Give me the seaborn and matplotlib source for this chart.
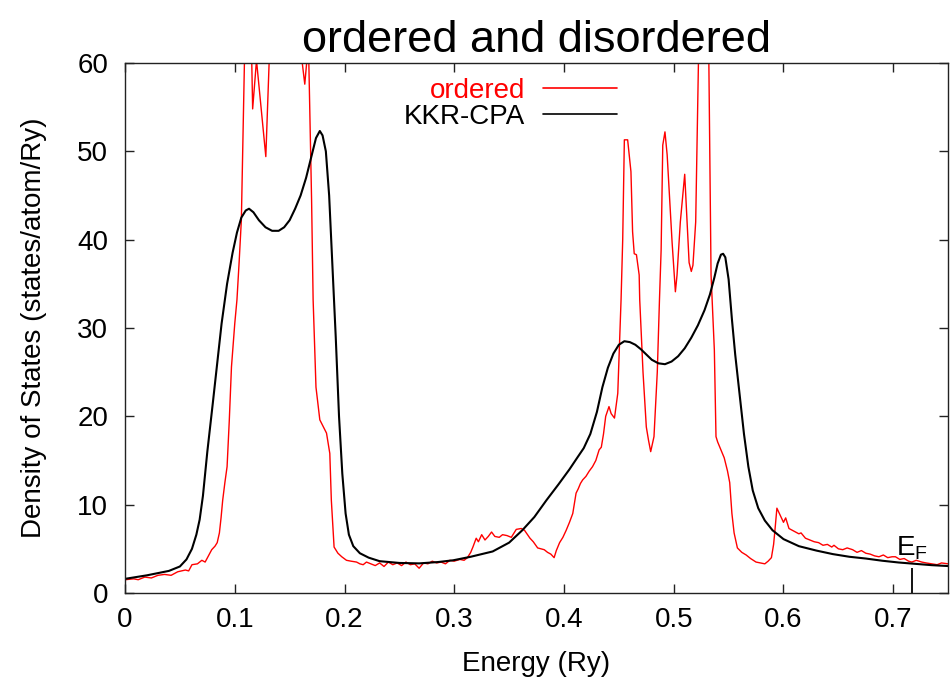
import numpy as np
import pandas as pd
import seaborn as sns
import matplotlib
matplotlib.use("Agg")
import matplotlib.pyplot as plt

# ordered (red) DOS; values above 60 are clipped by the axes
ordered_e = [0.000, 0.008, 0.012, 0.018, 0.024, 0.030, 0.036, 0.042, 0.048, 0.055,
             0.058, 0.061, 0.066, 0.070, 0.073, 0.076, 0.079, 0.082, 0.084, 0.086,
             0.0875, 0.089, 0.091, 0.093, 0.095, 0.097, 0.100, 0.102, 0.104, 0.106,
             0.1088, 0.110, 0.114, 0.1155, 0.1163, 0.1198, 0.1283, 0.1313, 0.133, 0.160,
             0.1615, 0.1638, 0.1655, 0.1665, 0.1675, 0.170, 0.1714, 0.174, 0.1775, 0.1836,
             0.1866, 0.188, 0.1905, 0.194, 0.1975, 0.2018, 0.206, 0.211, 0.214, 0.217,
             0.220, 0.224, 0.228, 0.232, 0.236, 0.240, 0.244, 0.248, 0.252, 0.256,
             0.260, 0.264, 0.268, 0.272, 0.276, 0.280, 0.284, 0.288, 0.292, 0.296,
             0.300, 0.305, 0.309, 0.312, 0.315, 0.317, 0.320, 0.322, 0.325, 0.328,
             0.331, 0.334, 0.337, 0.341, 0.344, 0.348, 0.352, 0.3565, 0.361, 0.364,
             0.369, 0.372, 0.376, 0.379, 0.382, 0.385, 0.388, 0.391, 0.393, 0.396,
             0.399, 0.402, 0.405, 0.408, 0.411, 0.413, 0.415, 0.417, 0.420, 0.423,
             0.426, 0.429, 0.432, 0.434, 0.436, 0.438, 0.441, 0.443, 0.446, 0.449,
             0.452, 0.4535, 0.455, 0.458, 0.461, 0.4625, 0.464, 0.466, 0.4685, 0.469,
             0.472, 0.475, 0.477, 0.479, 0.482, 0.485, 0.487, 0.4885, 0.490, 0.492,
             0.494, 0.4985, 0.5015, 0.503, 0.506, 0.510, 0.514, 0.516, 0.5175, 0.520,
             0.5225, 0.524, 0.530, 0.532, 0.534, 0.537, 0.5385, 0.540, 0.543, 0.546,
             0.549, 0.551, 0.553, 0.555, 0.558, 0.562, 0.566, 0.570, 0.575, 0.579,
             0.583, 0.586, 0.589, 0.591, 0.592, 0.594, 0.597, 0.600, 0.602, 0.605,
             0.608, 0.611, 0.614, 0.616, 0.620, 0.624, 0.628, 0.632, 0.636, 0.640,
             0.644, 0.646, 0.650, 0.654, 0.658, 0.663, 0.667, 0.671, 0.675, 0.679,
             0.683, 0.687, 0.691, 0.695, 0.699, 0.702, 0.706, 0.710, 0.714, 0.717,
             0.721, 0.726, 0.730, 0.735, 0.740, 0.744, 0.750]
ordered_dos = [1.5, 1.6, 1.5, 1.8, 1.7, 2.0, 2.1, 2.0, 2.4, 2.6,
               2.5, 3.2, 3.3, 3.7, 3.5, 4.2, 4.9, 5.3, 5.7, 6.8,
               8.5, 10.5, 12.5, 14.3, 19.5, 25.6, 30.5, 33.2, 37.5, 42.2,
               60.0, 72.0, 72.0, 60.0, 54.8, 60.3, 49.4, 60.0, 75.0, 75.0,
               60.0, 57.6, 60.0, 68.0, 60.0, 44.5, 33.2, 23.3, 19.6, 18.1,
               15.8, 10.5, 5.2, 4.5, 4.1, 3.7, 3.6, 3.5, 3.3, 3.2,
               3.5, 3.3, 3.1, 3.4, 3.0, 3.5, 3.2, 3.4, 3.1, 3.5,
               3.2, 3.3, 2.8, 3.4, 3.3, 3.6, 3.4, 3.5, 3.3, 3.7,
               3.6, 3.8, 3.7, 4.0, 4.6, 5.2, 6.2, 5.8, 6.6, 6.0,
               6.4, 6.9, 6.4, 6.3, 6.6, 6.5, 6.3, 7.2, 7.3, 7.1,
               6.2, 5.8, 5.1, 5.0, 4.9, 4.6, 4.4, 4.0, 4.8, 5.7,
               6.3, 7.1, 8.0, 9.0, 11.3, 11.8, 12.4, 12.8, 13.2, 13.8,
               14.3, 15.0, 16.2, 16.5, 18.0, 20.0, 21.1, 20.3, 19.8, 22.6,
               33.2, 40.0, 51.3, 51.3, 47.7, 40.9, 38.4, 38.3, 36.0, 33.2,
               25.0, 18.8, 17.3, 16.0, 17.7, 25.0, 33.2, 38.8, 50.7, 52.2,
               49.6, 39.7, 34.1, 36.0, 42.0, 47.4, 37.4, 36.4, 37.1, 42.0,
               60.0, 80.0, 80.0, 60.0, 36.0, 27.5, 17.7, 17.1, 16.2, 15.3,
               13.8, 12.5, 9.0, 6.8, 5.1, 4.6, 4.3, 3.9, 3.5, 3.4,
               3.3, 3.6, 4.0, 5.5, 6.8, 9.6, 8.8, 8.0, 8.5, 7.3,
               7.1, 6.9, 6.7, 6.8, 6.2, 6.0, 5.8, 5.7, 5.4, 5.5,
               5.2, 5.4, 5.0, 4.9, 5.1, 4.9, 4.6, 4.8, 4.5, 4.4,
               4.2, 4.1, 4.3, 4.0, 4.1, 4.1, 3.8, 3.9, 3.6, 3.5,
               3.7, 3.5, 3.4, 3.3, 3.2, 3.4, 3.3]

# KKR-CPA (black) DOS
cpa_e = [0.000, 0.020, 0.040, 0.050, 0.056, 0.061, 0.065, 0.068, 0.071, 0.075,
         0.080, 0.084, 0.088, 0.093, 0.098, 0.102, 0.106, 0.110, 0.113, 0.117,
         0.122, 0.128, 0.134, 0.140, 0.145, 0.150, 0.155, 0.160, 0.165, 0.170,
         0.174, 0.1775, 0.180, 0.183, 0.186, 0.189, 0.192, 0.195, 0.198, 0.201,
         0.204, 0.208, 0.214, 0.222, 0.232, 0.250, 0.268, 0.285, 0.299, 0.315,
         0.335, 0.350, 0.362, 0.373, 0.384, 0.395, 0.405, 0.412, 0.418, 0.424,
         0.430, 0.435, 0.440, 0.445, 0.450, 0.455, 0.460, 0.465, 0.470, 0.475,
         0.480, 0.486, 0.492, 0.498, 0.504, 0.510, 0.516, 0.522, 0.528, 0.533,
         0.537, 0.540, 0.543, 0.545, 0.547, 0.550, 0.553, 0.556, 0.560, 0.564,
         0.568, 0.572, 0.577, 0.583, 0.590, 0.600, 0.614, 0.630, 0.645, 0.660,
         0.675, 0.690, 0.705, 0.720, 0.735, 0.750]
cpa_dos = [1.6, 2.0, 2.5, 3.0, 3.8, 5.0, 6.6, 8.3, 11.0, 16.0,
           21.5, 26.0, 30.5, 35.0, 38.5, 40.8, 42.5, 43.3, 43.5, 43.1,
           42.2, 41.4, 41.0, 41.0, 41.4, 42.2, 43.5, 45.0, 47.0, 49.5,
           51.5, 52.3, 51.8, 50.0, 45.0, 37.0, 29.0, 20.0, 13.5, 9.0,
           6.6, 5.3, 4.5, 4.0, 3.6, 3.4, 3.35, 3.5, 3.7, 4.1,
           4.7, 5.7, 7.1, 8.6, 10.5, 12.3, 14.0, 15.3, 16.4, 18.0,
           20.5, 23.3, 25.5, 27.1, 28.1, 28.5, 28.4, 28.1, 27.6, 27.0,
           26.4, 26.0, 25.9, 26.2, 26.8, 27.7, 28.9, 30.3, 32.0, 33.8,
           35.7, 37.3, 38.3, 38.4, 38.0, 35.5, 31.0, 27.0, 22.5, 18.0,
           14.3, 11.6, 9.6, 8.2, 7.1, 6.1, 5.3, 4.8, 4.4, 4.1,
           3.9, 3.65, 3.45, 3.3, 3.15, 3.05]

fermi_energy = 0.717
fermi_mark_height = 2.8

xticks = [0, 0.1, 0.2, 0.3, 0.4, 0.5, 0.6, 0.7]
xticklabels = ["0", "0.1", "0.2", "0.3", "0.4", "0.5", "0.6", "0.7"]
yticks = [0, 10, 20, 30, 40, 50, 60]

sns.set_style("ticks")
plt.rcParams['font.family'] = ['Liberation Sans', 'DejaVu Sans']
plt.rcParams['mathtext.fontset'] = 'custom'
plt.rcParams['mathtext.rm'] = 'Liberation Sans'
plt.rcParams['text.color'] = 'black'
plt.rcParams['axes.labelcolor'] = 'black'
plt.rcParams['xtick.color'] = 'black'
plt.rcParams['ytick.color'] = 'black'

fs = 20

fig = plt.figure(figsize=(9.5, 6.83), dpi=100)
ax = fig.add_axes([0.1316, 0.1318, 0.8664, 0.776])

sns.lineplot(x=ordered_e, y=ordered_dos, color="red", linewidth=1.0,
             estimator=None, sort=False, label="ordered", ax=ax)
sns.lineplot(x=cpa_e, y=cpa_dos, color="black", linewidth=1.5,
             estimator=None, sort=False, label="KKR-CPA", ax=ax)

ax.vlines(fermi_energy, 0, fermi_mark_height, color="black", linewidth=1.3)
ax.text(fermi_energy - 0.0145, 4.2, r"$\mathregular{E_F}$", fontsize=fs, color="black")

ax.set_xlim(0, 0.75)
ax.set_ylim(0, 60)
ax.set_xticks(xticks)
ax.set_xticklabels(xticklabels)
ax.set_yticks(yticks)
ax.tick_params(direction="in", top=True, right=True, length=6.5, width=1,
               labelsize=fs, color="#222222")
ax.tick_params(axis="x", pad=10)
ax.tick_params(axis="y", pad=12)
for sp in ax.spines.values():
    sp.set_visible(True)
    sp.set_linewidth(1.0)
    sp.set_color("#222222")

ax.set_xlabel("Energy (Ry)", fontsize=fs, labelpad=13)
ax.set_ylabel("Density of States (states/atom/Ry)", fontsize=fs, labelpad=22)
ax.set_title("ordered and disordered", fontsize=32.5, pad=8)

leg = ax.legend(loc="upper right", bbox_to_anchor=(0.611, 0.9925), frameon=False,
                markerfirst=False, fontsize=fs, handlelength=2.66,
                handletextpad=0.65, labelspacing=0.0, borderaxespad=0.0,
                labelcolor="linecolor")
for line in leg.get_lines():
    line.set_linewidth(1.2)

fig.savefig("out.png", dpi=100)
